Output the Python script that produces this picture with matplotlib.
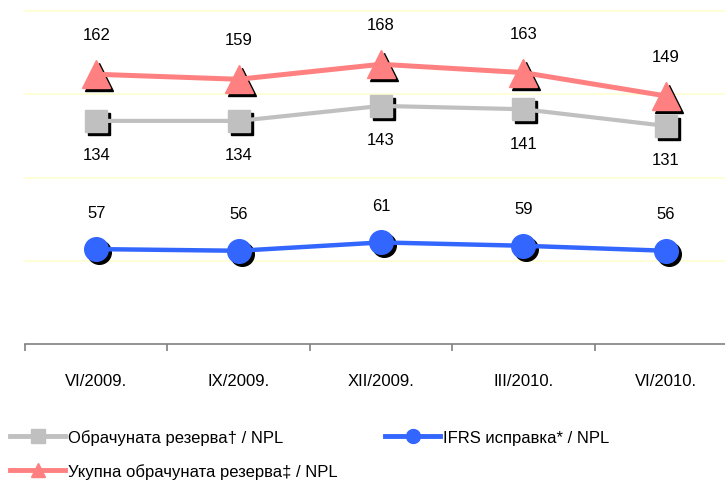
import matplotlib
matplotlib.use("Agg")
import matplotlib.pyplot as plt
import matplotlib.transforms as mtransforms
from matplotlib.ticker import FixedLocator
from matplotlib.lines import Line2D

plt.rcParams['font.family'] = ['Liberation Sans', 'DejaVu Sans']

categories = ["VI/2009.", "IX/2009.", "XII/2009.", "III/2010.", "VI/2010."]
obracunata = [134, 134, 143, 141, 131]
ifrs = [57, 56, 61, 59, 56]
ukupna = [162, 159, 168, 163, 149]

names = {
    "obr": "Обрачуната резерва† / NPL",
    "ifrs": "IFRS исправка* / NPL",
    "uk": "Укупна обрачуната резерва‡ / NPL",
}

FS = 12
fig = plt.figure(figsize=(7.25, 4.81), dpi=100)
ax = fig.add_axes([25/725, 1-345/481, 712/725, 333/481])
x = list(range(len(categories)))

ax.set_xlim(-0.5, len(categories)-0.5)
ax.set_ylim(0, 200)
for g in [50, 100, 150, 200]:
    ax.axhline(g, color='#FFFFD0', lw=1.2, zorder=0, clip_on=False)

shadow = mtransforms.offset_copy(ax.transData, fig=fig, x=3, y=-3, units='dots')

series = [
    (obracunata, '#C0C0C0', 's', 16.5, 3.0, names["obr"], -24.5),
    (ifrs, '#3366FF', 'o', 17, 3.2, names["ifrs"], 26.5),
    (ukupna, '#FF8080', '^', 20, 3.6, names["uk"], 28.5),
]
for vals, col, mk, ms, lw, lab, off in series:
    ax.plot(x, vals, ls='none', marker=mk, ms=ms, color='black', mec='black',
            transform=shadow, zorder=2, clip_on=False)
    ax.plot(x, vals, color=col, lw=lw, marker=mk, ms=ms, mec=col,
            zorder=3, clip_on=False, label=lab)
    for xi, v in zip(x, vals):
        ax.annotate(str(v), (xi, v), xytext=(0, off), textcoords='offset points',
                    ha='center', va='center', fontsize=FS)

for s in ['top', 'right', 'left']:
    ax.spines[s].set_visible(False)
ax.spines['bottom'].set_color('#808080')
ax.spines['bottom'].set_linewidth(1.2)
ax.set_yticks([])
ax.xaxis.set_major_locator(FixedLocator(x))
ax.set_xticklabels(categories, fontsize=FS)
ax.xaxis.set_minor_locator(FixedLocator([i - 0.5 for i in range(len(categories)+1)]))
ax.tick_params(axis='x', which='major', length=0, pad=21)
ax.tick_params(axis='x', which='minor', length=5, color='#808080', width=1.2)

def mkh(col, mk, lw):
    return Line2D([], [], color=col, lw=lw, marker=mk, ms=10, mec=col)

leg_handles = [mkh('#C0C0C0', 's', 3.5), mkh('#FF8080', '^', 3.5), mkh('#3366FF', 'o', 3.5)]
leg_labels = [names["obr"], names["uk"], names["ifrs"]]
fig.legend(leg_handles, leg_labels, ncol=2, loc='upper left',
           bbox_to_anchor=(10/725, 1-430/481), frameon=False, fontsize=FS,
           handlelength=3.3, handletextpad=0.15, columnspacing=2.9,
           labelspacing=1.1, borderaxespad=0, borderpad=0)

fig.savefig("out.png", dpi=100)
